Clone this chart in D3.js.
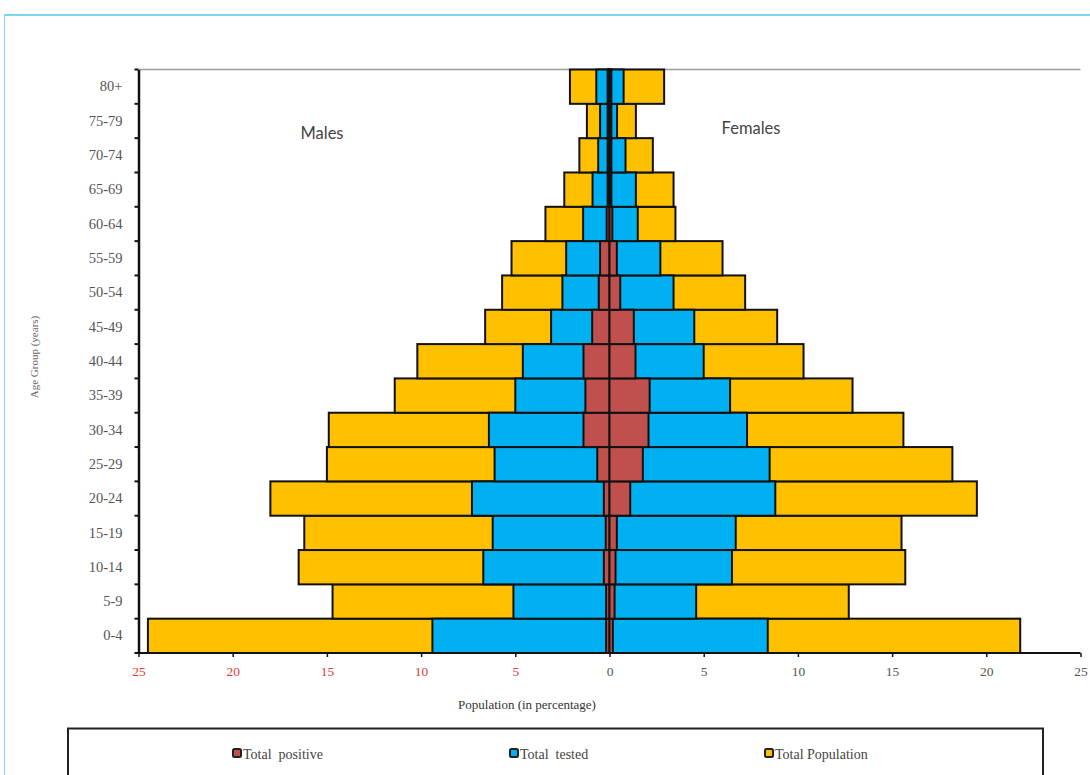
<!DOCTYPE html>
<html>
<head>
<meta charset="utf-8">
<script src="https://cdn.jsdelivr.net/npm/d3@7"></script>
<style>
  html, body { margin: 0; padding: 0; background: #fff; }
  svg { display: block; }
</style>
</head>
<body>
<svg id="chart" width="1090" height="775"></svg>
<script>
// ---- Data ----
const ageGroups = ["0-4","5-9","10-14","15-19","20-24","25-29","30-34","35-39","40-44","45-49","50-54","55-59","60-64","65-69","70-74","75-79","80+"];
const malePopulation  = [24.5, 14.7, 16.5, 16.2, 18.0, 15.0, 14.9, 11.4, 10.2, 6.6, 5.7, 5.2, 3.4, 2.4, 1.6, 1.2, 2.1];
const maleTested      = [9.4, 5.1, 6.7, 6.2, 7.3, 6.1, 6.4, 5.0, 4.6, 3.1, 2.5, 2.3, 1.4, 0.9, 0.6, 0.5, 0.7];
const malePositive    = [0.18, 0.18, 0.3, 0.2, 0.3, 0.65, 1.38, 1.28, 1.38, 0.92, 0.57, 0.5, 0.15, 0.1, 0.1, 0.1, 0.1];
const femalePopulation = [21.8, 12.7, 15.7, 15.5, 19.5, 18.2, 15.6, 12.9, 10.3, 8.9, 7.2, 6.0, 3.5, 3.4, 2.3, 1.4, 2.9];
const femaleTested     = [8.4, 4.6, 6.5, 6.7, 8.8, 8.5, 7.3, 6.4, 5.0, 4.5, 3.4, 2.7, 1.5, 1.4, 0.85, 0.4, 0.75];
const femalePositive   = [0.18, 0.27, 0.32, 0.39, 1.1, 1.77, 2.07, 2.13, 1.38, 1.29, 0.57, 0.39, 0.15, 0.1, 0.1, 0.1, 0.1];
const xTickValues = [-25,-20,-15,-10,-5,0,5,10,15,20,25];
const seriesNames = ["Total  positive", "Total  tested", "Total Population"];
const seriesColors = ["#c0504d", "#00b0f0", "#ffc000"];

// ---- Layout ----
const svg = d3.select("#chart");
const x = d3.scaleLinear().domain([-25, 25]).range([138.5, 1080.5]);
const y = d3.scaleBand().domain(ageGroups.slice().reverse()).range([69.5, 653]).padding(0);

// outer frame (light blue)
svg.append("line").attr("x1", 4).attr("x2", 1090).attr("y1", 15).attr("y2", 15)
  .attr("stroke", "#7dd3f2").attr("stroke-width", 2);
svg.append("line").attr("x1", 4.5).attr("x2", 4.5).attr("y1", 14).attr("y2", 775)
  .attr("stroke", "#7dd3f2").attr("stroke-width", 1);

// top plot border (gray)
svg.append("line").attr("x1", x(-25)).attr("x2", x(25)).attr("y1", 69.5).attr("y2", 69.5)
  .attr("stroke", "#9a9a9a").attr("stroke-width", 1.5);

// ---- Bars (overlapping, each from 0) ----
const layers = [
  { male: malePopulation, female: femalePopulation, color: seriesColors[2] },
  { male: maleTested, female: femaleTested, color: seriesColors[1] },
  { male: malePositive, female: femalePositive, color: seriesColors[0] }
];
const g = svg.append("g");
layers.forEach(layer => {
  const rows = ageGroups.map((a, i) => ({ age: a, m: layer.male[i], f: layer.female[i] }));
  g.selectAll(null).data(rows).enter().append("rect")
    .attr("x", d => x(-d.m)).attr("width", d => x(0) - x(-d.m))
    .attr("y", d => y(d.age)).attr("height", y.bandwidth())
    .attr("fill", layer.color).attr("stroke", "#111").attr("stroke-width", 2);
  g.selectAll(null).data(rows).enter().append("rect")
    .attr("x", x(0)).attr("width", d => x(d.f) - x(0))
    .attr("y", d => y(d.age)).attr("height", y.bandwidth())
    .attr("fill", layer.color).attr("stroke", "#111").attr("stroke-width", 2);
});

// ---- Axes ----
const xAxis = d3.axisBottom(x).tickValues(xTickValues).tickSize(4).tickPadding(9)
  .tickFormat(d => Math.abs(d));
const xg = svg.append("g").attr("transform", "translate(0,653)").call(xAxis);
xg.select(".domain").attr("stroke", "#111").attr("stroke-width", 2).attr("d", `M${x(-25)},0H${x(25)}`);
xg.selectAll(".tick line").attr("stroke", "#111").attr("stroke-width", 1.5);
xg.selectAll(".tick text")
  .attr("font-family", "'Liberation Serif', serif").attr("font-size", 13.5)
  .attr("fill", d => d < 0 ? "#e0393e" : "#555");

const yAxis = d3.axisLeft(y).tickSize(0).tickPadding(16);
const yg = svg.append("g").attr("transform", `translate(${x(-25)},0)`).call(yAxis);
yg.select(".domain").attr("stroke", "#111").attr("stroke-width", 2.5);
yg.selectAll(".tick text")
  .attr("font-family", "'Liberation Serif', serif").attr("font-size", 14.5).attr("fill", "#555");
// y tick marks at band boundaries
const boundaries = ageGroups.map(a => y(a)).concat([y.range()[1]]);
yg.selectAll(null).data(boundaries).enter().append("line")
  .attr("x1", -4).attr("x2", 0).attr("y1", d => d).attr("y2", d => d)
  .attr("stroke", "#111").attr("stroke-width", 2);

// axis titles
svg.append("text").attr("x", 527).attr("y", 709).attr("text-anchor", "middle")
  .attr("font-family", "'Liberation Serif', serif").attr("font-size", 13).attr("fill", "#333")
  .text("Population (in percentage)");
svg.append("text").attr("transform", "translate(38,357) rotate(-90)").attr("text-anchor", "middle")
  .attr("font-family", "'Liberation Serif', serif").attr("font-size", 11).attr("fill", "#666")
  .text("Age Group (years)");

// Males / Females labels
svg.append("text").attr("x", 322).attr("y", 139).attr("text-anchor", "middle")
  .attr("font-family", "Lato, sans-serif").attr("font-size", 16.5).attr("fill", "#444").text("Males");
svg.append("text").attr("x", 751).attr("y", 134).attr("text-anchor", "middle")
  .attr("font-family", "Lato, sans-serif").attr("font-size", 16.5).attr("fill", "#444").text("Females");

// ---- Legend ----
svg.append("path").attr("d", "M68,776V728.5H1043V776")
  .attr("fill", "none").attr("stroke", "#222").attr("stroke-width", 2);
const legendX = [233, 510, 765];
const lg = svg.append("g");
seriesNames.forEach((name, i) => {
  lg.append("rect").attr("x", legendX[i]).attr("y", 749).attr("width", 8).attr("height", 8)
    .attr("rx", 1.5).attr("fill", seriesColors[i]).attr("stroke", "#222").attr("stroke-width", 2);
  lg.append("text").attr("x", legendX[i] + 10).attr("y", 758.5)
    .attr("font-family", "'Liberation Serif', serif").attr("font-size", 14).attr("fill", "#444")
    .attr("xml:space", "preserve").style("white-space", "pre").text(name);
});
</script>
</body>
</html>
